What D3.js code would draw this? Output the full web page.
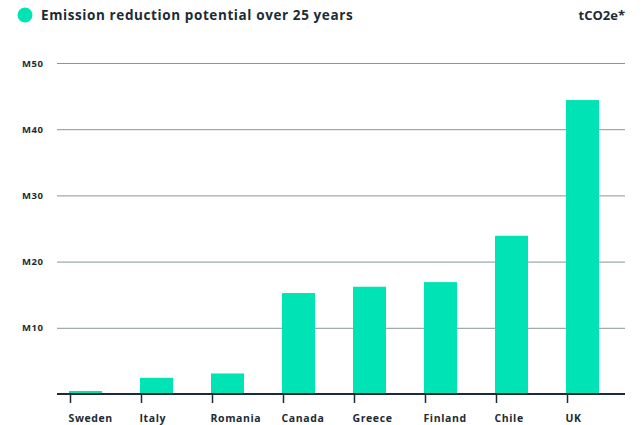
<!DOCTYPE html>
<html>
<head>
<meta charset="utf-8">
<script src="https://cdn.jsdelivr.net/npm/d3@7"></script>
<style>
  html, body { margin: 0; padding: 0; background: #ffffff; }
  svg { display: block; font-family: "Open Sans", "Lato", sans-serif; }
</style>
</head>
<body>
<svg id="chart" width="644" height="425"></svg>
<script>
// Emission reduction potential over 25 years, in millions of tCO2e
const countries = ["Sweden", "Italy", "Romania", "Canada", "Greece", "Finland", "Chile", "UK"];
const reduction = [0.45, 2.45, 3.1, 15.25, 16.2, 16.9, 23.9, 44.4];
const yTicks = [10, 20, 30, 40, 50];
const yTickLabels = ["M10", "M20", "M30", "M40", "M50"];

const ink = "#1c2b35";
const barColor = "#00e3b4";
const font = "'Open Sans', sans-serif";

const svg = d3.select("#chart");

const x = d3.scaleBand()
  .domain(countries)
  .range([69, 69 + 71 * countries.length])
  .paddingInner(0)
  .paddingOuter(0);
const barWidth = 33;

const y = d3.scaleLinear().domain([0, 50]).range([394, 63]);

// Legend / title row
svg.append("circle").attr("cx", 25).attr("cy", 15).attr("r", 7.5).attr("fill", barColor);
svg.append("text").attr("x", 41).attr("y", 20)
  .attr("font-size", 13.5).attr("font-weight", 700).attr("fill", ink)
  .attr("font-family", font).attr("letter-spacing", 0.6)
  .text("Emission reduction potential over 25 years");
svg.append("text").attr("x", 625).attr("y", 20).attr("text-anchor", "end")
  .attr("font-size", 13).attr("font-weight", 700).attr("fill", ink)
  .attr("font-family", font)
  .text("tCO2e*");

// Horizontal gridlines with labels
const yAxis = d3.axisLeft(y)
  .tickValues(yTicks)
  .tickFormat((d, i) => yTickLabels[i])
  .tickSize(-(625 - 57));
const gy = svg.append("g").attr("transform", "translate(57,0)").call(yAxis);
gy.select(".domain").remove();
gy.selectAll(".tick line").attr("stroke", "#8a9698").attr("stroke-width", 1);
gy.selectAll(".tick text")
  .attr("x", -35).attr("text-anchor", "start")
  .attr("font-size", 9.5).attr("font-weight", 700).attr("fill", ink)
  .attr("font-family", font).attr("letter-spacing", 0.6);

// Bars
svg.append("g").selectAll("rect")
  .data(countries)
  .join("rect")
  .attr("x", (d) => x(d))
  .attr("width", barWidth)
  .attr("y", (d, i) => y(reduction[i]))
  .attr("height", (d, i) => y(0) - y(reduction[i]))
  .attr("fill", barColor);

// Category axis: ticks at the left edge of each bar, labels left-aligned
const xAxis = d3.axisBottom(x).tickSize(9).tickSizeOuter(0);
const gx = svg.append("g").attr("transform", `translate(0,${y(0)})`).call(xAxis);
gx.selectAll(".tick").attr("transform", (d) => `translate(${x(d) + 1.5},0)`);
gx.select(".domain").attr("d", "M57,0H625").attr("stroke", ink).attr("stroke-width", 2);
gx.selectAll(".tick line").attr("stroke", ink).attr("stroke-width", 1.5);
gx.selectAll(".tick text")
  .attr("text-anchor", "start").attr("x", -2).attr("y", 28).attr("dy", null)
  .attr("font-size", 10.5).attr("font-weight", 700).attr("fill", ink)
  .attr("font-family", font).attr("letter-spacing", 0.6);
</script>
</body>
</html>
